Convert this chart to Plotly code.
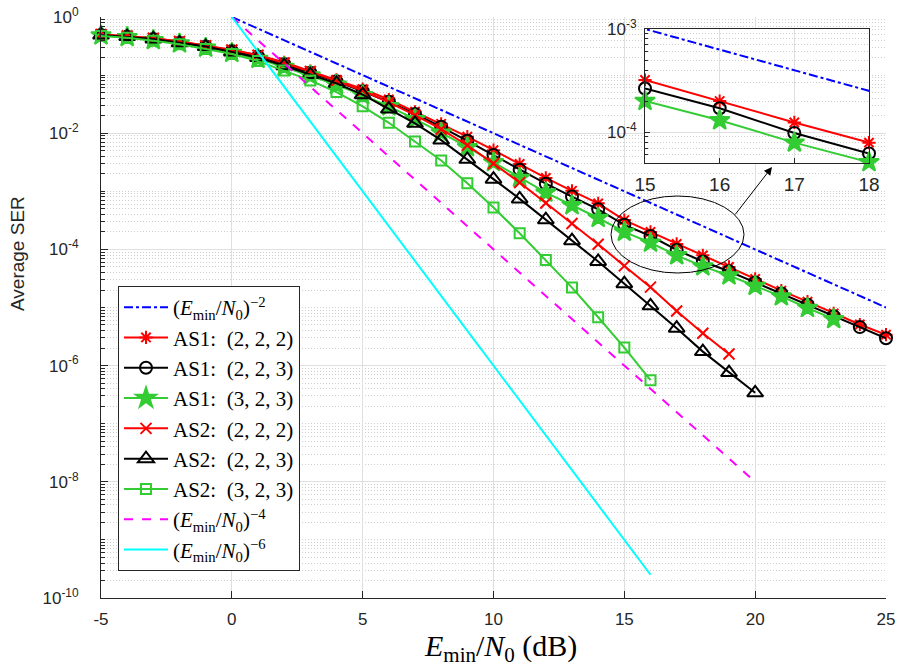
import plotly.graph_objects as go

# ---------------- data ----------------
snr_all = list(range(-5, 26))          # -5 .. 25 dB

as1_222 = [0.50, 0.47, 0.43, 0.38, 0.32, 0.27, 0.22, 0.166, 0.117, 0.083,
           0.0575, 0.038, 0.0234, 0.0145, 8.7e-3, 5.1e-3, 2.95e-3, 1.7e-3, 1.02e-3, 6.2e-4,
           3.2e-4, 2.0e-4, 1.24e-4, 7.9e-5, 5.0e-5, 3.1e-5, 1.95e-5, 1.26e-5, 7.9e-6, 5.1e-6,
           3.4e-6]
as1_223 = [0.49, 0.46, 0.42, 0.36, 0.31, 0.26, 0.21, 0.155, 0.11, 0.078,
           0.0525, 0.0347, 0.0214, 0.0129, 7.4e-3, 4.2e-3, 2.35e-3, 1.35e-3, 8.1e-4, 4.9e-4,
           2.65e-4, 1.7e-4, 9.8e-5, 6.2e-5, 4.2e-5, 2.7e-5, 1.74e-5, 1.12e-5, 7.1e-6, 4.6e-6,
           2.95e-6]
as1_323 = [0.48, 0.45, 0.40, 0.35, 0.295, 0.24, 0.19, 0.138, 0.098, 0.068,
           0.045, 0.029, 0.0174, 0.0102, 5.75e-3, 3.16e-3, 1.7e-3, 9.5e-4, 5.75e-4, 3.47e-4,
           2.0e-4, 1.3e-4, 7.9e-5, 5.1e-5, 3.55e-5, 2.35e-5, 1.55e-5, 9.8e-6, 6.3e-6]
as2_222 = [0.50, 0.47, 0.43, 0.38, 0.32, 0.27, 0.22, 0.162, 0.115, 0.079,
           0.054, 0.034, 0.0204, 0.0117, 6.2e-3, 3.0e-3, 1.41e-3, 6.3e-4, 2.8e-4, 1.23e-4,
           5.2e-5, 2.24e-5, 8.7e-6, 3.6e-6, 1.58e-6]
as2_223 = [0.49, 0.46, 0.42, 0.36, 0.31, 0.25, 0.20, 0.145, 0.102, 0.072,
           0.046, 0.026, 0.0148, 7.6e-3, 3.55e-3, 1.62e-3, 7.4e-4, 3.24e-4, 1.41e-4, 6.2e-5,
           2.57e-5, 1.07e-5, 4.4e-6, 1.74e-6, 7.6e-7, 3.4e-7]
as2_323 = [0.47, 0.44, 0.39, 0.34, 0.28, 0.23, 0.174, 0.12, 0.081, 0.051,
           0.029, 0.0151, 7.2e-3, 3.4e-3, 1.38e-3, 5.25e-4, 1.9e-4, 6.6e-5, 2.2e-5, 6.8e-6,
           2.04e-6, 5.6e-7]

# reference slope lines (E_min/N0)^-d
ref2_x = [0, 25]
ref2_y = [1.0, 1e-5]
ref4_x = [0, 20]
ref4_y = [1.0, 1e-8]
ref6_x = [0, 16]
ref6_y = [1.0, 10 ** -9.6]

legend_names = [
    "(<i>E</i><sub>min</sub>/<i>N</i><sub>0</sub>)<sup>\u22122</sup>",
    "AS1:  (2, 2, 2)", "AS1:  (2, 2, 3)", "AS1:  (3, 2, 3)",
    "AS2:  (2, 2, 2)", "AS2:  (2, 2, 3)", "AS2:  (3, 2, 3)",
    "(<i>E</i><sub>min</sub>/<i>N</i><sub>0</sub>)<sup>\u22124</sup>",
    "(<i>E</i><sub>min</sub>/<i>N</i><sub>0</sub>)<sup>\u22126</sup>",
]

x_ticks = [-5, 0, 5, 10, 15, 20, 25]
y_tick_exps = [0, -2, -4, -6, -8, -10]
inset_x_ticks = [15, 16, 17, 18]
inset_y_tick_exps = [-3, -4]

# ---------------- style ----------------
RED = "#ff0000"
BLACK = "#000000"
GREEN = "#33cc33"
BLUE = "#0000ff"
MAGENTA = "#ff00ff"
CYAN = "#00ffff"
AXC = "#262626"
GRID = "#dfdfdf"
MGRID = "#cfcfcf"
SANS = "Liberation Sans, Arial, sans-serif"
SERIF = "Liberation Serif, Times New Roman, serif"

def n(k):
    return snr_all[:len(k)]

series = [
    dict(x=ref2_x, y=ref2_y, color=BLUE, dash="dashdot", symbol=None),
    dict(x=n(as1_222), y=as1_222, color=RED, dash="solid", symbol="asterisk-open", size=11),
    dict(x=n(as1_223), y=as1_223, color=BLACK, dash="solid", symbol="circle-open", size=12),
    dict(x=n(as1_323), y=as1_323, color=GREEN, dash="solid", symbol="star", size=15),
    dict(x=n(as2_222), y=as2_222, color=RED, dash="solid", symbol="x-thin-open", size=11),
    dict(x=n(as2_223), y=as2_223, color=BLACK, dash="solid", symbol="triangle-up-open", size=14),
    dict(x=n(as2_323), y=as2_323, color=GREEN, dash="solid", symbol="square-open", size=10),
    dict(x=ref4_x, y=ref4_y, color=MAGENTA, dash="dash", symbol=None),
    dict(x=ref6_x, y=ref6_y, color=CYAN, dash="solid", symbol=None),
]

fig = go.Figure()
for i, s in enumerate(series):
    if s["symbol"] is None:
        mode = "lines"
        marker = None
    else:
        mode = "lines+markers"
        marker = dict(symbol=s["symbol"], size=s["size"], color=s["color"],
                      line=dict(color=s["color"], width=2))
    fig.add_trace(go.Scatter(
        x=s["x"], y=s["y"], mode=mode, name=legend_names[i],
        line=dict(color=s["color"], width=2, dash=s["dash"]),
        marker=marker, legendgroup=f"g{i}",
        xaxis="x", yaxis="y", cliponaxis=False if s["symbol"] else True,
    ))

# inset traces (15..18 dB)
i0, i1 = snr_all.index(15), snr_all.index(18) + 1
fig.add_trace(go.Scatter(x=ref2_x, y=ref2_y, mode="lines", showlegend=False,
                         line=dict(color=BLUE, width=2, dash="dashdot"),
                         xaxis="x2", yaxis="y2"))
for s in series[1:4]:
    fig.add_trace(go.Scatter(
        x=s["x"][i0:i1], y=s["y"][i0:i1], mode="lines+markers", showlegend=False,
        line=dict(color=s["color"], width=2),
        marker=dict(symbol=s["symbol"], size=s["size"], color=s["color"],
                    line=dict(color=s["color"], width=2)),
        xaxis="x2", yaxis="y2", cliponaxis=False))

# minor grid positions for log axes
main_minor = []
for k in range(-10, 0):
    for m in range(1, 10):
        v = m * 10.0 ** k
        if m == 1 and k % 2 == 0:
            continue
        main_minor.append(v)
inset_minor = [m * 1e-5 for m in range(5, 10)] + [m * 1e-4 for m in range(2, 10)]

L, R, T, B = 101, 14, 17, 71
PW, PH = 900 - L - R, 669 - T - B

def px2paper_x(px):
    return (px - L) / PW

def py2paper_y(py):
    return (669 - B - py) / PH

fig.update_layout(
    width=900, height=669,
    margin=dict(l=L, r=R, t=T, b=B, autoexpand=False),
    paper_bgcolor="white", plot_bgcolor="white",
    showlegend=True,
    legend=dict(
        x=px2paper_x(118), y=py2paper_y(286), xanchor="left", yanchor="top",
        bgcolor="white", bordercolor=AXC, borderwidth=1,
        font=dict(family=SERIF, size=21, color="black"),
        tracegroupgap=0, itemwidth=44,
    ),
    xaxis=dict(
        domain=[0, 1], range=[-5, 25], anchor="y", automargin=False,
        tickvals=x_ticks, ticktext=[str(v) for v in x_ticks],
        tickfont=dict(family=SANS, size=17, color=AXC),
        ticks="inside", ticklen=7, tickcolor=AXC, ticklabelstandoff=6,
        showline=True, linecolor=AXC, linewidth=1, mirror=False,
        showgrid=True, gridcolor=GRID, gridwidth=1, zeroline=False,
    ),
    yaxis=dict(
        domain=[0, 1], type="log", range=[-10, 0], anchor="x", automargin=False,
        tickvals=[10.0 ** e for e in y_tick_exps],
        ticktext=[f"10<sup>{e}</sup>" for e in y_tick_exps],
        tickfont=dict(family=SANS, size=17, color=AXC),
        ticks="inside", ticklen=7, tickcolor=AXC, ticklabelstandoff=18,
        showline=True, linecolor=AXC, linewidth=1, mirror=False,
        showgrid=True, gridcolor=GRID, gridwidth=1, zeroline=False,
        minor=dict(tickvals=main_minor, ticks="inside", ticklen=4, tickcolor=AXC,
                   showgrid=True, gridcolor=MGRID, griddash="1px,2px", gridwidth=1),
    ),
    xaxis2=dict(
        domain=[px2paper_x(645), px2paper_x(869)], range=[15, 18], anchor="y2",
        automargin=False,
        tickvals=inset_x_ticks, ticktext=[str(v) for v in inset_x_ticks],
        tickfont=dict(family=SANS, size=19, color=AXC),
        ticks="inside", ticklen=5, tickcolor=AXC, ticklabelstandoff=4,
        showline=True, linecolor=AXC, linewidth=1, mirror=True,
        showgrid=True, gridcolor=GRID, zeroline=False,
    ),
    yaxis2=dict(
        domain=[py2paper_y(163), py2paper_y(29)], type="log", range=[-4.3, -3.0],
        anchor="x2", automargin=False,
        tickvals=[10.0 ** e for e in inset_y_tick_exps],
        ticktext=[f"10<sup>{e}</sup>" for e in inset_y_tick_exps],
        tickfont=dict(family=SANS, size=17, color=AXC),
        ticks="inside", ticklen=5, tickcolor=AXC, ticklabelstandoff=4,
        showline=True, linecolor=AXC, linewidth=1, mirror=True,
        showgrid=True, gridcolor=GRID, zeroline=False,
        minor=dict(tickvals=inset_minor, ticks="inside", ticklen=3, tickcolor=AXC,
                   showgrid=True, gridcolor=MGRID, griddash="1px,2px", gridwidth=1),
    ),
    shapes=[dict(type="circle", xref="paper", yref="paper",
                 x0=px2paper_x(611), x1=px2paper_x(744),
                 y0=py2paper_y(273), y1=py2paper_y(196),
                 line=dict(color="black", width=1), layer="above")],
    annotations=[
        dict(xref="paper", yref="paper",
             x=px2paper_x(772), y=py2paper_y(167),
             ax=-38, ay=49, showarrow=True, arrowhead=2, arrowsize=1.6,
             arrowwidth=1, arrowcolor="black", text=""),
        dict(xref="paper", yref="paper", x=px2paper_x(17), y=py2paper_y(254),
             xanchor="center", yanchor="middle", showarrow=False, textangle=-90,
             text="Average SER", font=dict(family=SANS, size=19, color=AXC)),
        dict(xref="paper", yref="paper", x=px2paper_x(500), y=py2paper_y(648),
             xanchor="center", yanchor="middle", showarrow=False,
             text="<i>E</i><sub>min</sub>/<i>N</i><sub>0</sub> (dB)",
             font=dict(family=SERIF, size=30, color="black")),
    ],
)

fig.write_html("out.html")
